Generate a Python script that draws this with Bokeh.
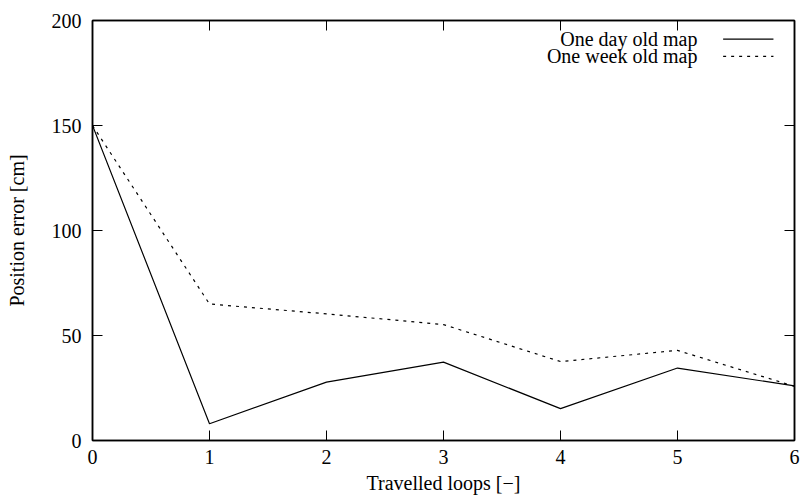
from bokeh.plotting import figure
from bokeh.models import Range1d, LinearAxis, FixedTicker, Label, Arrow
from bokeh.embed import file_html
from bokeh.resources import INLINE

loops = [0, 1, 2, 3, 4, 5, 6]
day_old = [150, 8, 27.8, 37.3, 15.2, 34.5, 26]
week_old = [150, 65, 60.3, 55.2, 37.6, 42.9, 25.8]
x_ticks = [0, 1, 2, 3, 4, 5, 6]
y_ticks = [0, 50, 100, 150, 200]
series_labels = ["One day old map", "One week old map"]

FONT = "Liberation Serif"
FS = "20px"

p = figure(width=803, height=497, output_backend="svg", toolbar_location=None,
           x_range=Range1d(0, 6), y_range=Range1d(0, 200),
           min_border_left=92, min_border_right=9, min_border_top=20, min_border_bottom=57,
           x_axis_label="Travelled loops [\u2212]", y_axis_label="Position error [cm]")
p.grid.visible = False
p.outline_line_color = "black"
p.outline_line_width = 1.5
p.background_fill_color = "white"
p.border_fill_color = "white"

for ax in p.xaxis:
    ax.ticker = FixedTicker(ticks=x_ticks)
for ax in p.yaxis:
    ax.ticker = FixedTicker(ticks=y_ticks)

for ax in list(p.xaxis) + list(p.yaxis):
    ax.major_tick_in = 10
    ax.major_tick_out = 0
    ax.minor_tick_line_color = None
    ax.axis_line_color = "black"
    ax.axis_line_width = 1.5
    ax.major_tick_line_color = "black"
    ax.major_tick_line_width = 1
    ax.major_label_text_font = FONT
    ax.major_label_text_font_size = FS
    ax.major_label_text_color = "black"
    ax.axis_label_text_font = FONT
    ax.axis_label_text_font_size = FS
    ax.axis_label_text_font_style = "normal"
    ax.axis_label_text_color = "black"

p.xaxis.major_label_standoff = 9
p.yaxis.major_label_standoff = 11
p.xaxis.axis_label_standoff = 5
p.yaxis.axis_label_standoff = 21

top = LinearAxis(ticker=FixedTicker(ticks=x_ticks), major_label_text_font_size="0px",
                 major_tick_in=10, major_tick_out=0, minor_tick_line_color=None,
                 axis_line_color="black", axis_line_width=1.5)
right = LinearAxis(ticker=FixedTicker(ticks=y_ticks), major_label_text_font_size="0px",
                   major_tick_in=10, major_tick_out=0, minor_tick_line_color=None,
                   axis_line_color="black", axis_line_width=1.5)
top.major_label_standoff = 0
right.major_label_standoff = 0
p.add_layout(top, "above")
p.add_layout(right, "right")
p.min_border_top = 20
p.min_border_right = 9

p.line(loops, day_old, line_color="black", line_width=1.2)
p.line(loops, week_old, line_color="black", line_width=1.2, line_dash="3 5")

# legend (gnuplot style: text on the left, sample on the right)
leg_text_x = 5.17
leg_x0, leg_x1 = 5.39, 5.82
leg_y = [191.1, 182.9]
dashes = ["solid", "3 5"]
for lab, yy, dash in zip(series_labels, leg_y, dashes):
    p.add_layout(Label(x=leg_text_x, y=yy, text=lab, text_align="right", text_baseline="middle",
                       text_font=FONT, text_font_size=FS, text_color="black"))
    p.add_layout(Arrow(end=None, start=None, x_start=leg_x0, y_start=yy, x_end=leg_x1, y_end=yy,
                       line_color="black", line_width=1.2, line_dash=dash))

open("out.html", "w").write(file_html(p, INLINE))
